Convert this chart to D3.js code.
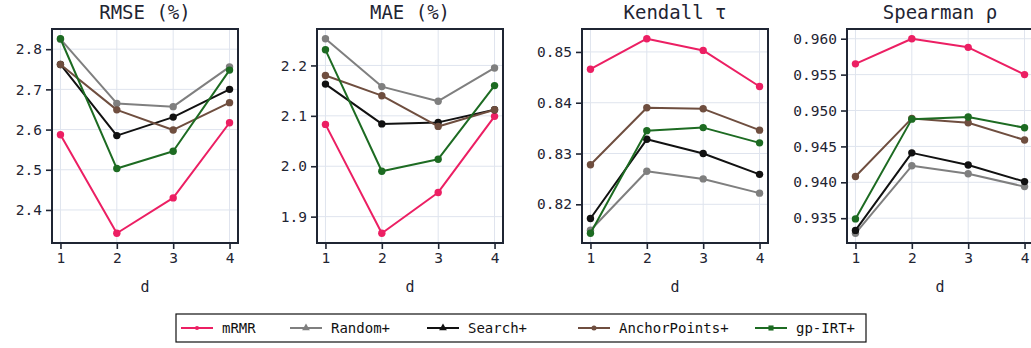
<!DOCTYPE html>
<html>
<head>
<meta charset="utf-8">
<script src="https://cdn.jsdelivr.net/npm/d3@7"></script>
<style>
  html, body { margin: 0; padding: 0; background: #fff; }
  svg { display: block; font-family: "DejaVu Sans Mono", "Liberation Mono", monospace; }
</style>
</head>
<body>
<svg id="chart" width="1031" height="348"></svg>
<script>
// Budget size d on the x axis
const dValues = [1, 2, 3, 4];

// Methods compared
const methods = ["mRMR", "Random+", "Search+", "AnchorPoints+", "gp-IRT+"];
const methodColors = ["#ec1f63", "#7f7f7f", "#111111", "#6f4e3f", "#1d6b22"];
const legendMarkers = ["circle", "triangle", "triangle", "circle", "square"];

// Panel titles
const metrics = ["RMSE (%)", "MAE (%)", "Kendall \u03c4", "Spearman \u03c1"];

// RMSE (%) per method, d = 1..4
const rmseMRMR     = [2.587, 2.342, 2.430, 2.617];
const rmseRandom   = [2.825, 2.665, 2.657, 2.756];
const rmseSearch   = [2.762, 2.585, 2.631, 2.700];
const rmseAnchor   = [2.762, 2.649, 2.599, 2.667];
const rmseGpIRT    = [2.826, 2.503, 2.546, 2.748];

// MAE (%)
const maeMRMR      = [2.083, 1.867, 1.948, 2.099];
const maeRandom    = [2.253, 2.158, 2.129, 2.195];
const maeSearch    = [2.163, 2.084, 2.087, 2.112];
const maeAnchor    = [2.180, 2.140, 2.079, 2.112];
const maeGpIRT     = [2.231, 1.990, 2.014, 2.160];

// Kendall tau
const kendallMRMR   = [0.8466, 0.8526, 0.8503, 0.8432];
const kendallRandom = [0.8149, 0.8265, 0.8250, 0.8222];
const kendallSearch = [0.8172, 0.8328, 0.8300, 0.8259];
const kendallAnchor = [0.8278, 0.8390, 0.8388, 0.8346];
const kendallGpIRT  = [0.8143, 0.8345, 0.8351, 0.8321];

// Spearman rho
const spearmanMRMR   = [0.9565, 0.9600, 0.9588, 0.9550];
const spearmanRandom = [0.9329, 0.9423, 0.9412, 0.9394];
const spearmanSearch = [0.9333, 0.9441, 0.9424, 0.9401];
const spearmanAnchor = [0.9408, 0.9489, 0.9483, 0.9459];
const spearmanGpIRT  = [0.9349, 0.9488, 0.9491, 0.9476];

// Tick labels per panel
const rmseTicks     = [2.4, 2.5, 2.6, 2.7, 2.8];
const maeTicks      = [1.9, 2.0, 2.1, 2.2];
const kendallTicks  = [0.82, 0.83, 0.84, 0.85];
const spearmanTicks = [0.935, 0.940, 0.945, 0.950, 0.955, 0.960];
const tickFormats   = [".1f", ".1f", ".2f", ".3f"];

const panels = [
  { title: metrics[0], series: [rmseMRMR, rmseRandom, rmseSearch, rmseAnchor, rmseGpIRT], ticks: rmseTicks, fmt: tickFormats[0] },
  { title: metrics[1], series: [maeMRMR, maeRandom, maeSearch, maeAnchor, maeGpIRT], ticks: maeTicks, fmt: tickFormats[1] },
  { title: metrics[2], series: [kendallMRMR, kendallRandom, kendallSearch, kendallAnchor, kendallGpIRT], ticks: kendallTicks, fmt: tickFormats[2] },
  { title: metrics[3], series: [spearmanMRMR, spearmanRandom, spearmanSearch, spearmanAnchor, spearmanGpIRT], ticks: spearmanTicks, fmt: tickFormats[3] }
];

const svg = d3.select("#chart");

const layout = { left0: 52, step: 265, width: 186, top: 29, bottom: 243 };
const frameColor = "#1f2533";
const gridColor = "#dfe4ee";
const textColor = "#1f2533";

// Padded domain, 5% on each side
function padded(lo, hi) {
  const m = (hi - lo) * 0.05;
  return [lo - m, hi + m];
}

panels.forEach((p, i) => {
  const x0 = layout.left0 + i * layout.step;
  const g = svg.append("g").attr("transform", `translate(${x0},0)`);

  const x = d3.scaleLinear()
    .domain(padded(d3.min(dValues), d3.max(dValues)))
    .range([0, layout.width]);
  const all = p.series.flat();
  const y = d3.scaleLinear()
    .domain(padded(d3.min(all), d3.max(all)))
    .range([layout.bottom, layout.top]);

  // grid
  g.append("g").selectAll("line.gx").data(dValues).join("line")
    .attr("x1", d => x(d)).attr("x2", d => x(d))
    .attr("y1", layout.top).attr("y2", layout.bottom)
    .attr("stroke", gridColor).attr("stroke-width", 1);
  g.append("g").selectAll("line.gy").data(p.ticks).join("line")
    .attr("x1", 0).attr("x2", layout.width)
    .attr("y1", d => y(d)).attr("y2", d => y(d))
    .attr("stroke", gridColor).attr("stroke-width", 1);

  // series
  p.series.forEach((vals, k) => {
    const pts = vals.map((v, j) => [dValues[j], v]);
    g.append("path")
      .datum(pts)
      .attr("fill", "none")
      .attr("stroke", methodColors[k])
      .attr("stroke-width", 2)
      .attr("stroke-linejoin", "round")
      .attr("d", d3.line().x(d => x(d[0])).y(d => y(d[1])));
    g.append("g").selectAll("circle").data(pts).join("circle")
      .attr("cx", d => x(d[0])).attr("cy", d => y(d[1]))
      .attr("r", 3.7)
      .attr("fill", methodColors[k]);
  });

  // axes
  const xAxis = d3.axisBottom(x).tickValues(dValues).tickFormat(d3.format("d"))
    .tickSizeInner(6).tickSizeOuter(0).tickPadding(4);
  const yAxis = d3.axisLeft(y).tickValues(p.ticks).tickFormat(d3.format(p.fmt))
    .tickSizeInner(6).tickSizeOuter(0).tickPadding(4);

  const gx = g.append("g").attr("transform", `translate(0,${layout.bottom})`).call(xAxis);
  const gy = g.append("g").call(yAxis);
  [gx, gy].forEach(a => {
    a.select(".domain").remove();
    a.selectAll(".tick line").attr("stroke", frameColor).attr("stroke-width", 1.6);
    a.selectAll(".tick text")
      .attr("fill", textColor)
      .style("font-family", "'DejaVu Sans Mono', monospace")
      .style("font-size", "14.5px");
  });

  // frame
  g.append("rect")
    .attr("x", 0).attr("y", layout.top)
    .attr("width", layout.width).attr("height", layout.bottom - layout.top)
    .attr("fill", "none").attr("stroke", frameColor).attr("stroke-width", 2);

  // title
  g.append("text")
    .attr("x", layout.width / 2).attr("y", 19)
    .attr("text-anchor", "middle")
    .attr("fill", textColor)
    .style("font-size", "19px")
    .text(p.title);

  // x label
  g.append("text")
    .attr("x", layout.width / 2).attr("y", 292)
    .attr("text-anchor", "middle")
    .attr("fill", textColor)
    .style("font-size", "15px")
    .text("d");
});

// legend
const legend = svg.append("g").attr("transform", "translate(176,314)");
const legendItemX = [5, 114, 251, 402, 579];
legend.append("rect")
  .attr("x", 0).attr("y", 0).attr("width", 690).attr("height", 28)
  .attr("fill", "#fff").attr("stroke", "#111").attr("stroke-width", 1.2);

methods.forEach((m, k) => {
  const gi = legend.append("g").attr("transform", `translate(${legendItemX[k]},14)`);
  gi.append("line")
    .attr("x1", 0).attr("x2", 32).attr("y1", 0).attr("y2", 0)
    .attr("stroke", methodColors[k]).attr("stroke-width", 2);
  const type = legendMarkers[k] === "triangle" ? d3.symbolTriangle
    : legendMarkers[k] === "square" ? d3.symbolSquare : d3.symbolCircle;
  const size = legendMarkers[k] === "circle" ? (k === 0 ? 14 : 20) : 26;
  gi.append("path")
    .attr("transform", "translate(16,0)")
    .attr("d", d3.symbol().type(type).size(size))
    .attr("fill", methodColors[k]);
  gi.append("text")
    .attr("x", 41).attr("y", 5)
    .attr("fill", "#111")
    .style("font-size", "14px")
    .text(m);
});
</script>
</body>
</html>
